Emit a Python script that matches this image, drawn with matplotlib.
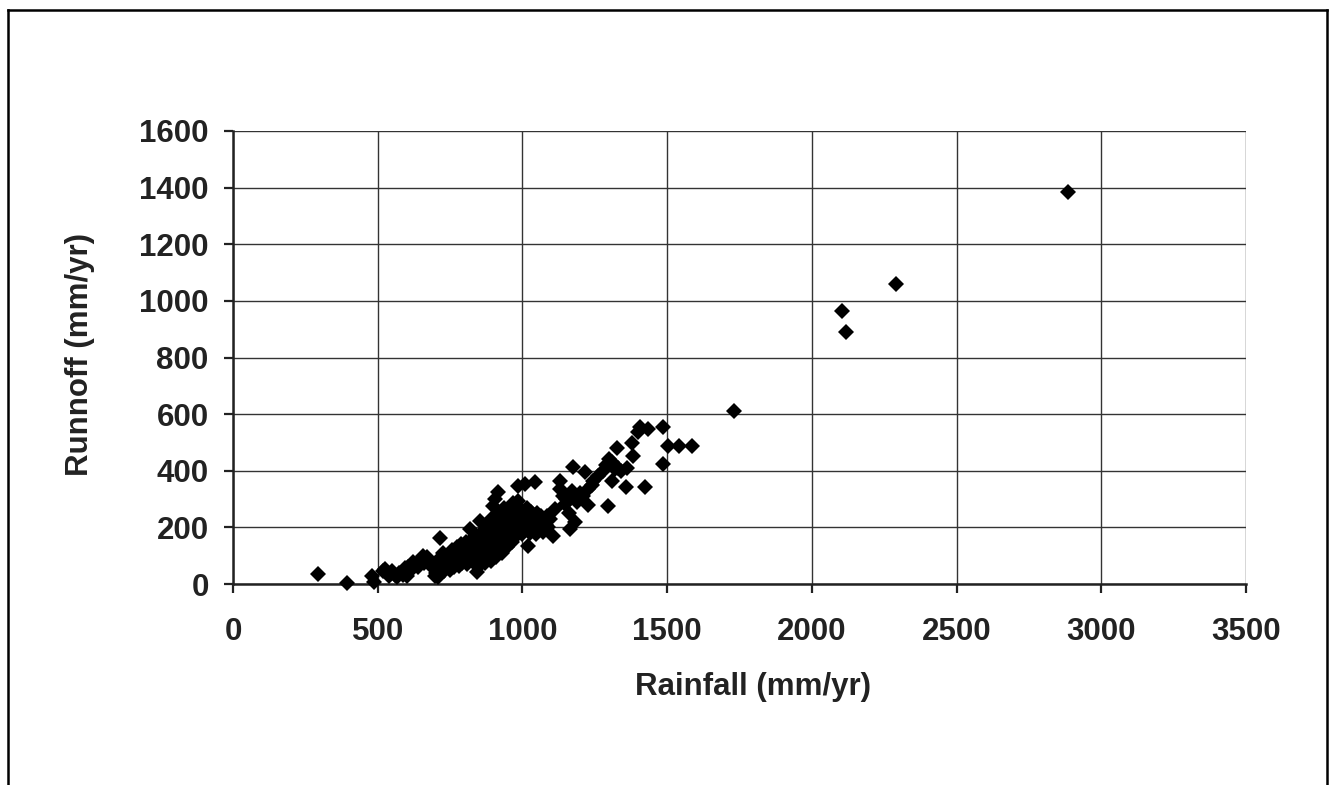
import matplotlib
matplotlib.use("Agg")
import matplotlib.pyplot as plt
from matplotlib.lines import Line2D

plt.rcParams['font.family'] = ['Liberation Sans', 'DejaVu Sans']

# rainfall (mm/yr), runoff (mm/yr)
rain = [295, 395, 480, 487, 518, 525, 540, 550, 560, 565, 575, 587, 595, 600,
        605, 615, 622, 630, 640, 645, 656, 660, 670, 680, 690, 698,
        700, 705, 710, 712, 715, 718, 720, 725, 728, 730, 735, 740, 745, 748, 750,
        755, 758, 760, 765, 768, 770, 775, 778, 780, 785, 788, 790, 795, 798,
        800, 805, 808, 810, 815, 819, 820, 825, 828, 830, 835, 838, 840, 843, 845, 848, 850,
        853, 855, 858, 860, 865, 868, 870, 875, 878, 880, 885, 888, 890, 893, 895, 898, 900,
        905, 908, 910, 915, 915, 918, 920, 925, 928, 930, 935, 938, 940, 945, 948, 950,
        955, 958, 960, 965, 968, 970, 975, 978, 980, 985, 985, 988, 990, 995, 998,
        1000, 1005, 1009, 1010, 1015, 1019, 1020, 1025, 1028, 1030, 1035, 1040, 1043, 1045, 1048, 1050,
        1055, 1060, 1065, 1070, 1075, 1080, 1085, 1090, 1095, 1106, 1112,
        1130, 1130, 1140, 1147, 1150, 1160, 1164, 1164, 1170, 1174, 1181, 1181, 1190, 1200,
        1209, 1216, 1227, 1227, 1240, 1244, 1260, 1280, 1290, 1296, 1300, 1309, 1310, 1320,
        1327, 1330, 1340, 1358, 1360, 1379, 1382, 1399, 1406, 1424, 1434, 1486, 1486,
        1503, 1541, 1586, 1730, 2105, 2118, 2290, 2885]
runoff = [35, 3, 28, 7, 46, 53, 30, 45, 32, 25, 38, 32, 55, 30,
          60, 50, 77, 70, 60, 85, 99, 75, 95, 80, 55, 28,
          40, 63, 25, 90, 162, 55, 75, 110, 45, 95, 70, 60, 85, 100, 50,
          120, 70, 90, 60, 105, 80, 130, 95, 65, 115, 140, 75, 100, 125,
          85, 150, 110, 70, 130, 194, 95, 160, 115, 80, 140, 100, 170, 42, 125, 60, 150,
          222, 110, 180, 90, 135, 155, 75, 120, 200, 100, 160, 140, 230, 80, 185, 275, 120,
          300, 170, 95, 324, 210, 140, 250, 190, 110, 230, 160, 270, 200, 240, 130, 210,
          260, 180, 225, 150, 285, 200, 245, 170, 215, 292, 345, 190, 230, 260, 175,
          210, 240, 352, 195, 270, 134, 225, 180, 255, 205, 240, 190, 359, 230, 175, 250,
          215, 200, 240, 185, 225, 210, 240, 200, 230, 169, 264,
          363, 335, 310, 282, 300, 250, 300, 194, 330, 412, 310, 218, 290, 320,
          310, 395, 335, 278, 350, 363, 380, 400, 420, 275, 440, 363, 430, 405,
          479, 410, 400, 342, 410, 497, 451, 536, 553, 342, 546, 553, 423,
          486, 486, 488, 610, 965, 890, 1058, 1385]

xticks = [0, 500, 1000, 1500, 2000, 2500, 3000, 3500]
yticks = [0, 200, 400, 600, 800, 1000, 1200, 1400, 1600]

fig = plt.figure(figsize=(13.32, 7.85), dpi=100)
ax = fig.add_axes([233 / 1332, 1 - 584 / 785, (1246 - 233) / 1332, (584 - 131) / 785])

ax.plot(rain, runoff, 'D', color='black', markersize=8.3, markeredgewidth=0,
        linestyle='none', zorder=3, clip_on=False)

ax.set_xlim(0, 3500)
ax.set_ylim(0, 1600)
ax.set_xticks(xticks)
ax.set_yticks(yticks)
ax.grid(True, color='#333333', linewidth=1.0)
ax.set_axisbelow(True)

for s in ['top', 'right']:
    ax.spines[s].set_visible(False)
for s in ['left', 'bottom']:
    ax.spines[s].set_linewidth(1.8)
    ax.spines[s].set_color('#222222')

ax.tick_params(axis='both', direction='out', length=6.5, width=1.6, color='#222222',
               labelsize=22.5, labelcolor='#222222')
ax.tick_params(axis='x', pad=17)
ax.tick_params(axis='y', pad=11)
for lab in ax.get_xticklabels() + ax.get_yticklabels():
    lab.set_fontweight('bold')

fig.text(753 / 1332, 1 - 687 / 785, "Rainfall (mm/yr)", ha='center', va='center',
         fontsize=22.5, fontweight='bold', color='#222222')
fig.text(80 / 1332, 1 - 355 / 785, "Runnoff (mm/yr)", ha='center', va='center',
         rotation=90, fontsize=22.5, fontweight='bold', color='#222222')

# outer chart frame (open at the bottom, cut off in the picture)
W, H = 1332, 785
for xs, ys in [([8, 8], [10, 800]), ([8, 1327], [10, 10]), ([1327, 1327], [10, 800])]:
    fig.add_artist(Line2D([x / W for x in xs], [1 - y / H for y in ys],
                          color='black', linewidth=1.8))

fig.savefig("out.png", dpi=100, facecolor='white')
